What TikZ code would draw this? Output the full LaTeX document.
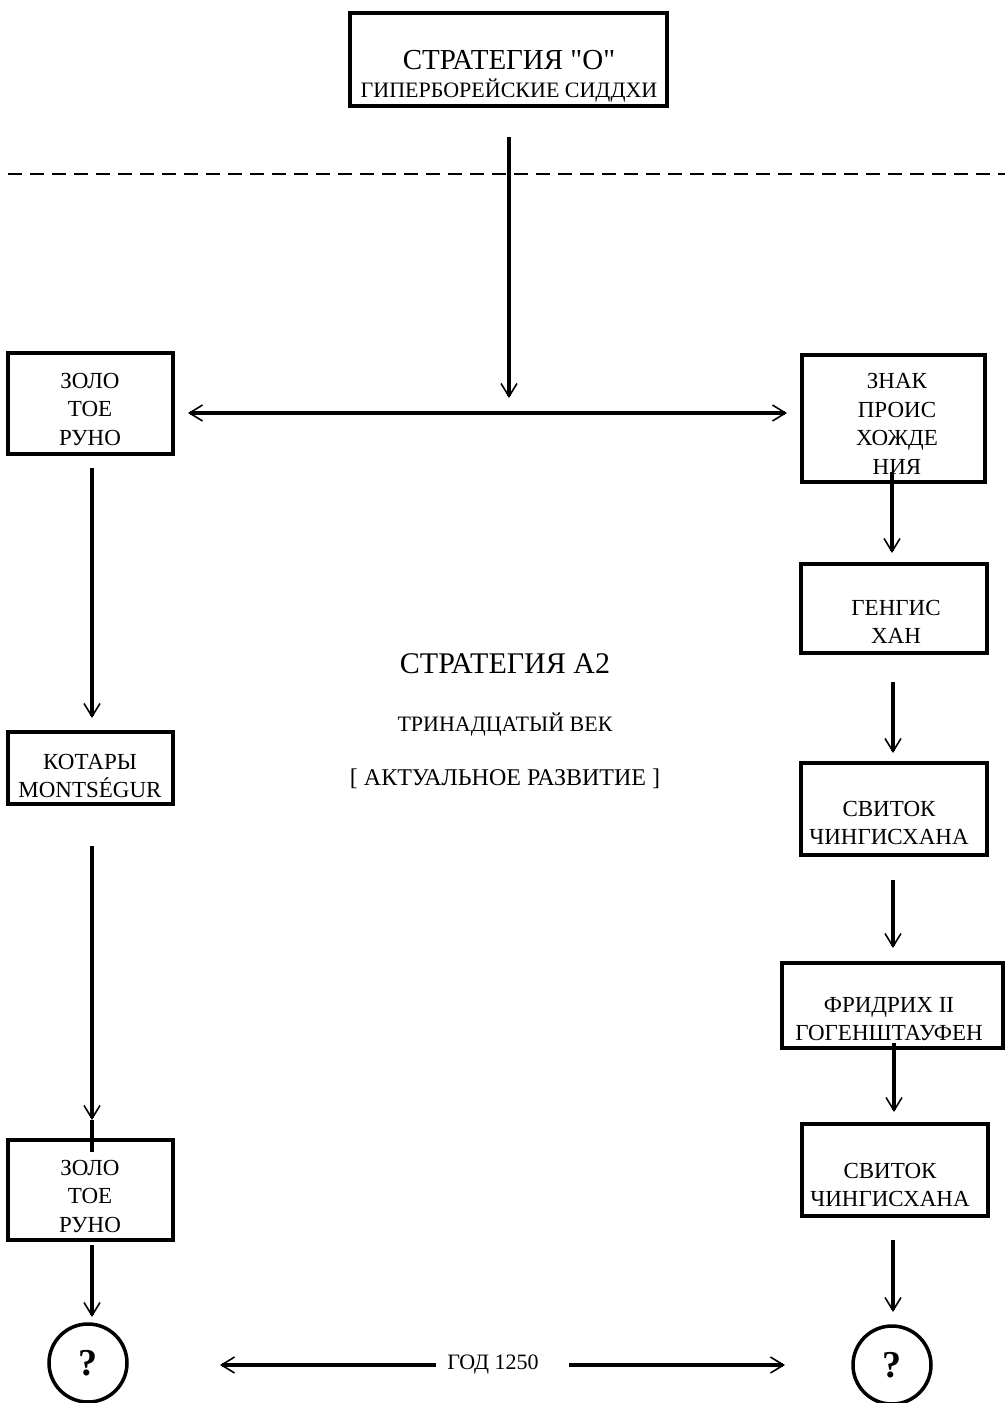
\documentclass[tikz,border=0pt]{standalone}
\usepackage{fontspec}
\setmainfont{Liberation Serif}[Ligatures=TeXOff]
\usetikzlibrary{arrows.meta}

\begin{document}
\begin{tikzpicture}[x=1pt,y=-1pt,
    conn/.style={line width=3.5pt,-{Straight Barb[length=13pt,width=16pt,line width=1.6pt]}},
    both/.style={line width=3.5pt,{Straight Barb[length=13pt,width=16pt,line width=1.6pt]}-{Straight Barb[length=13pt,width=16pt,line width=1.6pt]}}]

      \useasboundingbox (0,0) rectangle (1005,1403);

      % frames
      \begin{scope}[every node/.style={draw,line width=3.5pt,inner sep=0pt}]
        \node[minimum width=317pt,minimum height=93pt]  (top)     at (508.5,59.5)  {};
        \node[minimum width=165pt,minimum height=101pt] (zolo1)   at (90.5,403.5)  {};
        \node[minimum width=183pt,minimum height=127pt] (znak)    at (893.5,418.5) {};
        \node[minimum width=165pt,minimum height=72pt]  (kotary)  at (90.5,768)    {};
        \node[minimum width=165pt,minimum height=100pt] (zolo2)   at (90.5,1190)   {};
        \node[minimum width=186pt,minimum height=89pt]  (gengis)  at (894,608.5)   {};
        \node[minimum width=186pt,minimum height=92pt]  (svitok1) at (894,809)     {};
        \node[minimum width=221pt,minimum height=85pt]  (fridrih) at (892.5,1005.5) {};
        \node[minimum width=186pt,minimum height=92pt]  (svitok2) at (895,1170)    {};
        \node[circle,minimum size=78pt] (q1) at (88,1363) {};
        \node[circle,minimum size=78pt] (q2) at (892,1365) {};
      \end{scope}

      % texts
      \begin{scope}[every node/.style={align=center,inner sep=0pt,font=\fontsize{23}{28.5}\selectfont}]
        \node (t-top) at (509,76) {{\fontsize{29}{31}\selectfont СТРАТЕГИЯ "О"}\\{\fontsize{22}{31}\selectfont ГИПЕРБОРЕЙСКИЕ СИДДХИ}};
        \node (t-zolo1)   at (90,409)   {ЗОЛО\\ТОЕ\\РУНО};
        \node (t-znak)    at (897,424)  {ЗНАК\\ПРОИС\\ХОЖДЕ\\НИЯ};
        \node (t-kotary)  at (90,776)   {КОТАРЫ\\MONTSÉGUR};
        \node (t-zolo2)   at (90,1196)  {ЗОЛО\\ТОЕ\\РУНО};
        \node (t-gengis)  at (896,622)  {ГЕНГИС\\ХАН};
        \node (t-svitok1) at (889,823)  {СВИТОК\\ЧИНГИСХАНА};
        \node (t-fridrih) at (889,1019) {ФРИДРИХ II\\ГОГЕНШТАУФЕН};
        \node (t-svitok2) at (890,1185) {СВИТОК\\ЧИНГИСХАНА};
        \node[font=\fontsize{38}{38}\selectfont\bfseries] (t-q1) at (q1) {?};
        \node[font=\fontsize{38}{38}\selectfont\bfseries] (t-q2) at (q2) {?};
        \node[font=\fontsize{30}{34}\selectfont] (strat) at (505,664) {СТРАТЕГИЯ А2};
        \node[font=\fontsize{22}{26}\selectfont] (vek)   at (505,725) {ТРИНАДЦАТЫЙ ВЕК};
        \node[font=\fontsize{24}{26}\selectfont] (razv)  at (505,779) {[ АКТУАЛЬНОЕ РАЗВИТИЕ ]};
        \node[font=\fontsize{22}{26}\selectfont] (god)   at (493,1365) {ГОД 1250};
      \end{scope}

      % line ends
      \coordinate (a0) at (509,137);  \coordinate (a1) at (509,398);
      \coordinate (h0) at (188,413);  \coordinate (h1) at (787,413);
      \coordinate (l0) at (92,468);   \coordinate (l1) at (92,718);
      \coordinate (l2) at (92,846);   \coordinate (l3) at (92,1120);
      \coordinate (l4) at (92,1152);
      \coordinate (l5) at (92,1245);  \coordinate (l6) at (92,1317);
      \coordinate (r0) at (892,472);  \coordinate (r1) at (892,553);
      \coordinate (r2) at (893,682);  \coordinate (r3) at (893,753);
      \coordinate (r4) at (893,880);  \coordinate (r5) at (893,948);
      \coordinate (r6) at (894,1043); \coordinate (r7) at (894,1112);
      \coordinate (r8) at (893,1240); \coordinate (r9) at (893,1312);
      \coordinate (b0) at (220,1365); \coordinate (b1) at (436,1365);
      \coordinate (b2) at (569,1365); \coordinate (b3) at (785,1365);
      \coordinate (d0) at (8,174);    \coordinate (d1) at (1005,174);

      \draw[line width=2pt,dash pattern=on 14pt off 8pt] (d0) -- (d1);

      \begin{scope}[every path/.style={conn}]
        \path[draw] (a0) -- (a1);
        \path[draw] (l0) -- (l1);
        \path[draw] (l2) -- (l3);
        \path[draw] (l5) -- (l6);
        \path[draw] (r0) -- (r1);
        \path[draw] (r2) -- (r3);
        \path[draw] (r4) -- (r5);
        \path[draw] (r6) -- (r7);
        \path[draw] (r8) -- (r9);
        \path[draw] (b1) -- (b0);
        \path[draw] (b2) -- (b3);
      \end{scope}
      \draw[line width=3.5pt] (l3) -- (l4);
      \draw[both] (h0) -- (h1);

    \end{tikzpicture}
\end{document}
